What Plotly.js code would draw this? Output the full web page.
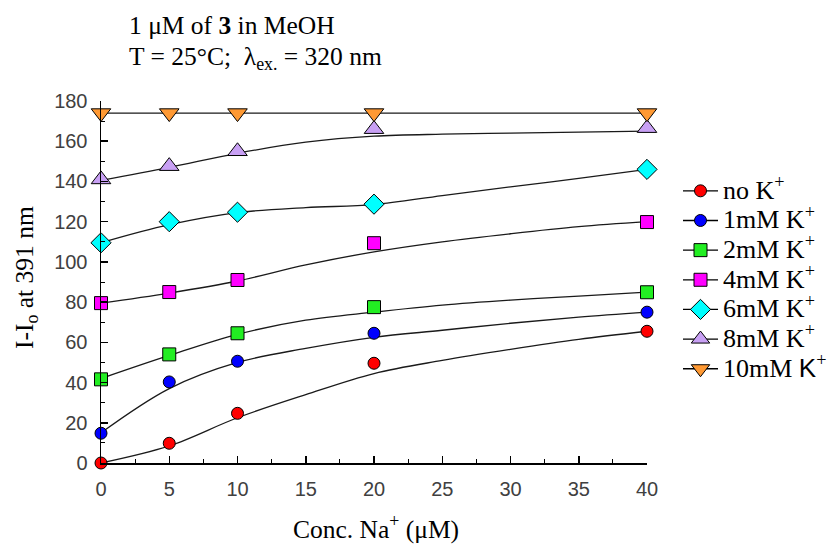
<!DOCTYPE html>
<html>
<head>
<meta charset="utf-8">
<script src="https://cdn.plot.ly/plotly-3.0.1.min.js"></script>
<style>html,body{margin:0;padding:0;background:#fff;}</style>
</head>
<body>
<div id="chart" style="width:833px;height:544px;"></div>
<script>
// Measured concentrations of Na+ (µM)
const concNa = [0, 5, 10, 20, 40];
// Measured I-Io at 391 nm for each K+ level
const noK   = [0, 9.8, 24.7, 49.6, 65.5];
const k1mM  = [14.8, 40.3, 50.6, 64.5, 75];
const k2mM  = [41.6, 54, 64.5, 77.5, 84.9];
const k4mM  = [79.5, 85, 91, 109.3, 119.8];
const k6mM  = [109.5, 120, 124.7, 128.7, 146];
const k8mM  = [141, 147.6, 155, 166, 166.5];
const k10mM = [174, 174, 174, 174, 174];

// Fitted curves
const fitX = [0, 5, 10, 15, 20, 25, 30, 35, 40];
const fitNoK  = [0, 8.5, 22.5, 34, 44.5, 51, 56.5, 61.5, 65.5];
const fit1mM  = [15, 37, 50, 57, 62.5, 66, 69.5, 72.5, 75];
const fit2mM  = [42, 53.5, 64, 71, 75, 78.5, 81, 83, 85];
const fit4mM  = [79.5, 84.5, 90.5, 98.5, 105, 110, 114, 117.5, 120];
const fit6mM  = [109.5, 118.5, 124.5, 127, 128.5, 133, 137.3, 141.5, 146];
const fit8mM  = [140.5, 147, 154, 159.5, 162.5, 163.5, 164, 164.5, 165];
const fit10mM = [174, 174, 174, 174, 174, 174, 174, 174, 174];

const seriesNames = [
  'no K<sup>+</sup>', '1mM K<sup>+</sup>', '2mM K<sup>+</sup>', '4mM K<sup>+</sup>',
  '6mM K<sup>+</sup>', '8mM K<sup>+</sup>', '10mM <span style="font-family:Liberation Sans">K</span><sup>+</sup>'
];
const titleLines = ['1 μM of <b>3</b> in MeOH', 'T = 25°C;\u00a0\u00a0λ<sub>ex.</sub> = 320 nm'];
const xTitle = 'Conc. Na<sup>+</sup> (μM)';
const yTitle = 'I-I<sub>o</sub> at 391 nm';

const pointSets = [noK, k1mM, k2mM, k4mM, k6mM, k8mM, k10mM];
const fitSets = [fitNoK, fit1mM, fit2mM, fit4mM, fit6mM, fit8mM, fit10mM];
const colors = ['#ff0000', '#0000ff', '#22ee22', '#ff00ff', '#00ffff', '#c8a0f4', '#ff9933'];
const symbols = ['circle', 'circle', 'square', 'square', 'diamond', 'triangle-up', 'triangle-down'];
const sizes = [12, 12, 13, 13, 15.5, 17, 17];

const traces = [];
fitSets.forEach(function (f) {
  traces.push({
    x: fitX, y: f, type: 'scatter', mode: 'lines',
    line: {color: '#1a1a1a', width: 1.3, shape: 'spline', smoothing: 1},
    showlegend: false, hoverinfo: 'skip', cliponaxis: false
  });
});
pointSets.forEach(function (p, i) {
  traces.push({
    x: concNa, y: p, type: 'scatter', mode: 'markers',
    marker: {color: colors[i], symbol: symbols[i], size: sizes[i], line: {color: '#000', width: 1}},
    showlegend: false, cliponaxis: false
  });
});
// legend entries
seriesNames.forEach(function (n, i) {
  traces.push({
    x: [null], y: [null], type: 'scatter', mode: 'lines+markers',
    name: '<span style="font-size:26px">' + n + '</span>',
    line: {color: '#000', width: 1.3},
    marker: {color: colors[i], symbol: symbols[i], size: sizes[i], line: {color: '#000', width: 1}}
  });
});

const tickFont = {family: 'Liberation Sans, Arial, sans-serif', size: 20, color: '#404040'};
const serif = 'Liberation Serif, Times New Roman, serif';
const py = function (p) { return (463 - p) / 362; };
const px = function (p) { return (p - 101) / 546; };

const layout = {
  width: 833, height: 544,
  margin: {l: 101, r: 186, t: 101, b: 81, autoexpand: false},
  paper_bgcolor: '#fff', plot_bgcolor: '#fff',
  showlegend: true,
  xaxis: {
    range: [0, 40], showgrid: false, zeroline: false,
    showline: true, linecolor: '#000', linewidth: 1.5,
    ticks: 'inside', ticklen: 7, tickwidth: 1.5, tickcolor: '#000',
    dtick: 5, tick0: 0, tickfont: tickFont, ticklabelstandoff: 7,
    minor: {dtick: 2.5, ticks: 'inside', ticklen: 4, tickwidth: 1, tickcolor: '#000'}
  },
  yaxis: {
    range: [0, 180], showgrid: false, zeroline: false,
    showline: true, linecolor: '#000', linewidth: 1.5,
    ticks: 'inside', ticklen: 7, tickwidth: 1.5, tickcolor: '#000',
    dtick: 20, tick0: 0, tickfont: tickFont, ticklabelstandoff: 8,
    minor: {dtick: 10, ticks: 'inside', ticklen: 4, tickwidth: 1, tickcolor: '#000'}
  },
  legend: {
    x: px(678), xanchor: 'left',
    y: py(171), yanchor: 'top',
    font: {family: serif, size: 20.5, color: '#000'},
    itemwidth: 35, bgcolor: 'rgba(0,0,0,0)', borderwidth: 0,
    tracegroupgap: 0
  },
  annotations: [
    {
      text: titleLines[0], xref: 'paper', yref: 'paper',
      x: px(127), y: py(25), xanchor: 'left', yanchor: 'middle',
      showarrow: false, font: {family: serif, size: 25.5, color: '#000'}
    },
    {
      text: titleLines[1], xref: 'paper', yref: 'paper',
      x: px(127), y: py(58), xanchor: 'left', yanchor: 'middle',
      showarrow: false, font: {family: serif, size: 25.5, color: '#000'}
    },
    {
      text: xTitle, xref: 'paper', yref: 'paper',
      x: px(376), y: py(527), xanchor: 'center', yanchor: 'middle',
      showarrow: false, font: {family: serif, size: 25.5, color: '#000'}
    },
    {
      text: yTitle, xref: 'paper', yref: 'paper',
      x: px(26), y: py(278), xanchor: 'center', yanchor: 'middle',
      textangle: -90, showarrow: false, font: {family: serif, size: 25.5, color: '#000'}
    }
  ]
};

Plotly.newPlot('chart', traces, layout, {displayModeBar: false, staticPlot: true});
</script>
</body>
</html>
